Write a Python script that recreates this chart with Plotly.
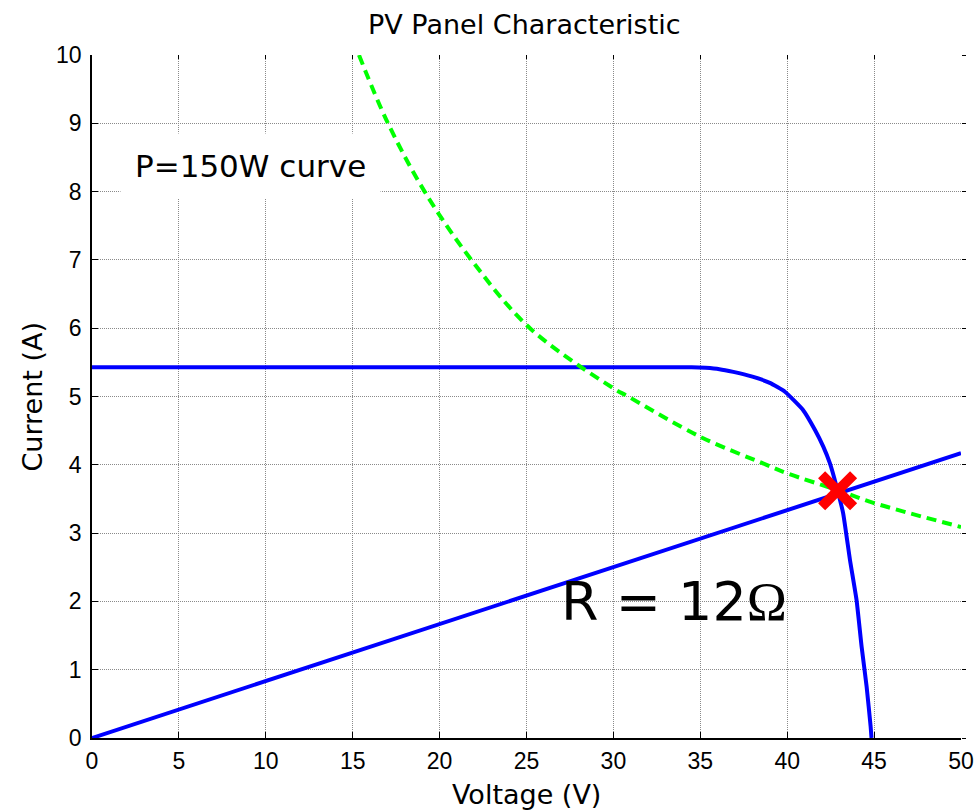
import plotly.graph_objects as go

# PV panel I-V characteristic
pv_voltage = [0, 34.5, 35.3, 36.1, 36.9, 38.0, 39.0, 39.87, 40.92, 41.6, 42.07,
              42.46, 42.84, 43.22, 43.61, 43.99, 44.28, 44.57, 44.80, 44.85]
pv_current = [5.43, 5.43, 5.42, 5.40, 5.36, 5.29, 5.20, 5.07, 4.80, 4.51, 4.27,
              4.02, 3.68, 3.29, 2.61, 2.02, 1.34, 0.75, 0.17, 0.0]

# Load line R = 12 ohm
r_voltage = [0, 50]
r_current = [0, 4.17]

# P = 150 W curve
p_voltage = [15.36, 17.03, 19.14, 21.83, 25.2, 30.0, 30.85, 35.0, 38.81, 40.0, 43.0, 45.0, 50.0]
p_current = [10.0, 9.0, 8.0, 7.0, 6.0, 5.12, 5.0, 4.41, 4.0, 3.875, 3.62, 3.44, 3.09]

# Operating point
op_voltage = [42.9]
op_current = [3.62]

x_ticks = [0, 5, 10, 15, 20, 25, 30, 35, 40, 45, 50]
y_ticks = [0, 1, 2, 3, 4, 5, 6, 7, 8, 9, 10]

fig = go.Figure()
fig.add_trace(go.Scatter(x=pv_voltage, y=pv_current, mode="lines", line_shape="spline",
                         line=dict(color="#0000ff", width=4, smoothing=0.4), showlegend=False))
fig.add_trace(go.Scatter(x=r_voltage, y=r_current, mode="lines",
                         line=dict(color="#0000ff", width=4), showlegend=False))
fig.add_trace(go.Scatter(x=p_voltage, y=p_current, mode="lines", line_shape="spline",
                         line=dict(color="#00ff00", width=4, dash="10px,6px"), showlegend=False))
fig.add_trace(go.Scatter(x=op_voltage, y=op_current, mode="markers",
                         marker=dict(symbol="x-thin-open", size=32, color="#ff0000",
                                     line=dict(color="#ff0000", width=10)),
                         showlegend=False))
# mirror axes for top/right ticks
fig.add_trace(go.Scatter(x=[], y=[], xaxis="x2", yaxis="y2", showlegend=False))

grid = dict(showgrid=True, gridcolor="#8a8a8a", gridwidth=1, griddash="1px,1px")
tickfont = dict(family="Liberation Sans, Arial", size=23, color="black")
labfont = dict(family="DejaVu Sans", size=27, color="black")

fig.update_layout(
    width=976, height=812,
    paper_bgcolor="white", plot_bgcolor="white",
    margin=dict(l=92, r=15, t=55, b=74),
    title=dict(text="PV Panel Characteristic", x=0.4975, xref="paper", xanchor="center",
               y=1 - 25 / 812, yref="container", yanchor="middle",
               font=dict(family="DejaVu Sans", size=27, color="black")),
    xaxis=dict(range=[0, 50], tickvals=x_ticks, ticktext=[str(v) for v in x_ticks],
               ticks="inside", ticklen=6, tickcolor="black", tickfont=tickfont,
               showline=True, linecolor="black", linewidth=1.5, zeroline=False,
               automargin=False, ticklabelstandoff=2, **grid),
    yaxis=dict(range=[0, 10], tickvals=y_ticks, ticktext=[str(v) for v in y_ticks],
               ticks="inside", ticklen=6, tickcolor="black", tickfont=tickfont,
               showline=True, linecolor="black", linewidth=1.5, zeroline=False,
               automargin=False, ticklabelstandoff=4, **grid),
    xaxis2=dict(range=[0, 50], tickvals=x_ticks, overlaying="x", side="top",
                ticks="inside", ticklen=4, tickcolor="black", showticklabels=False,
                showline=False, showgrid=False, zeroline=False, automargin=False),
    yaxis2=dict(range=[0, 10], tickvals=y_ticks, overlaying="y", side="right",
                ticks="outside", ticklen=4, tickcolor="black", showticklabels=False,
                showline=False, showgrid=False, zeroline=False, automargin=False),
    annotations=[
        dict(x=9.12, y=8.37, xref="x", yref="y", text="P=150W curve", showarrow=False,
             bgcolor="white", borderpad=14, xanchor="center", yanchor="middle",
             font=dict(family="DejaVu Sans", size=31, color="black")),
        dict(x=33.5, y=2.0, xref="x", yref="y",
             text="R = 12<span style='font-family:Liberation Serif'>Ω</span>",
             showarrow=False, xanchor="center", yanchor="middle",
             font=dict(family="DejaVu Sans", size=54, color="black")),
    ],
)

# axis titles placed as annotations in pixel offsets from plot edges
fig.add_annotation(x=0.5, y=0, xref="paper", yref="paper", yshift=-56,
                   text="Voltage (V)", showarrow=False, xanchor="center",
                   yanchor="middle", font=labfont)
fig.add_annotation(x=0, y=0.5, xref="paper", yref="paper", xshift=-60,
                   text="Current (A)", textangle=-90, showarrow=False,
                   xanchor="center", yanchor="middle", font=labfont)

fig.write_html("out.html", config={"displayModeBar": False},
               post_script="document.body.style.margin='0';document.body.style.overflow='hidden';")
